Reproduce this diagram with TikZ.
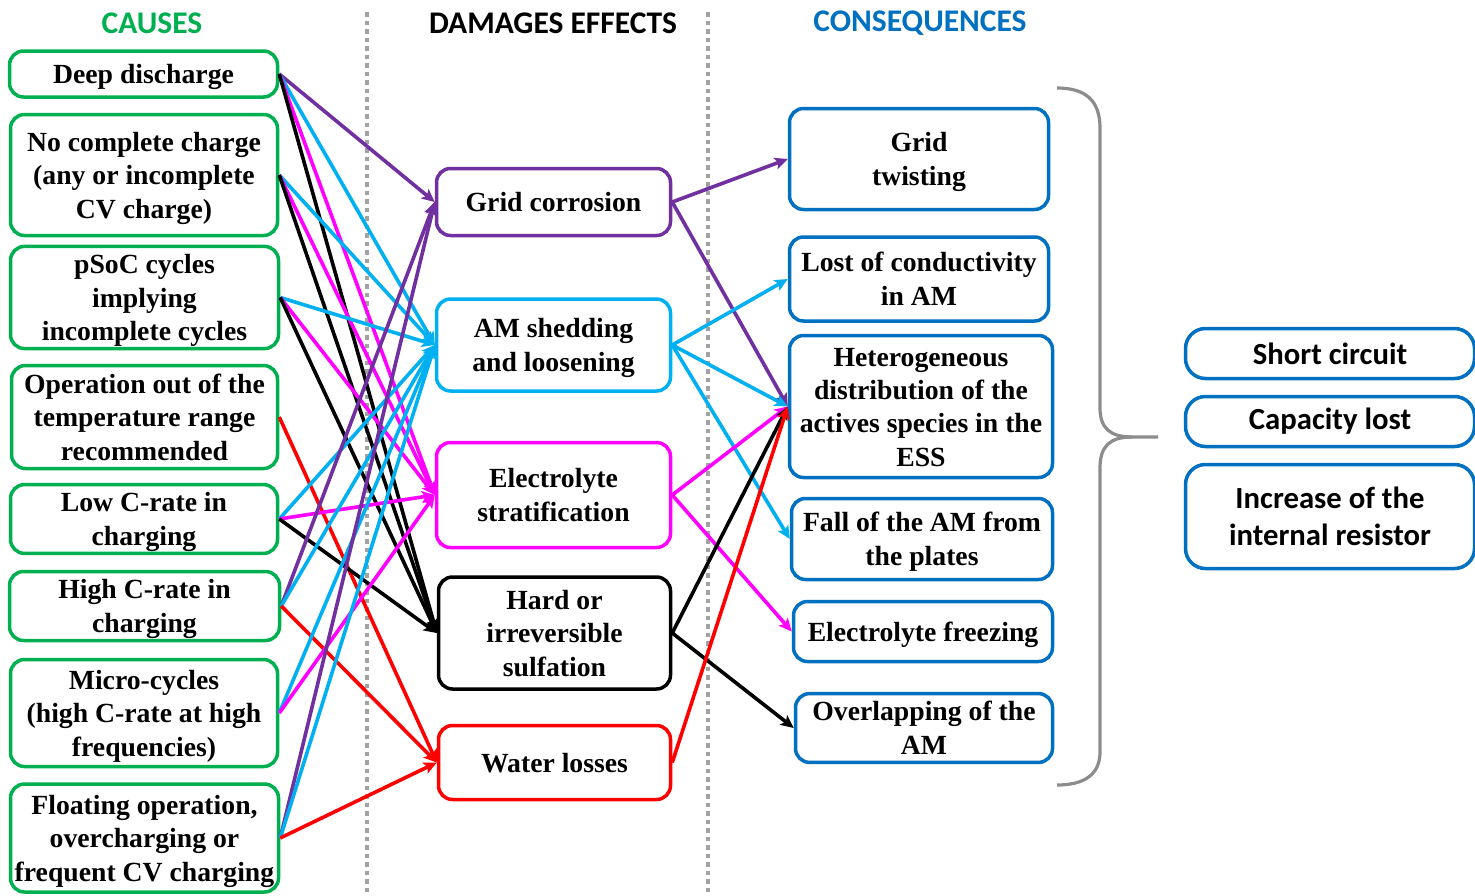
\documentclass[tikz,border=0pt]{standalone}
\usepackage{fontspec}
\setmainfont{Liberation Serif}
\newfontfamily\calfont{Carlito}
\usetikzlibrary{arrows.meta}
\definecolor{cgreen}{HTML}{00B050}
\definecolor{cpurple}{HTML}{7030A0}
\definecolor{ccyan}{HTML}{00B0F0}
\definecolor{cmag}{HTML}{FF00FF}
\definecolor{cred}{HTML}{FF0000}
\definecolor{cblue}{HTML}{0070C0}
\definecolor{cbrace}{HTML}{8C8C8C}
\definecolor{cdot}{HTML}{A2A2A2}
\newcommand\tl[1]{\raisebox{-3pt}[\height][\depth]{\begin{tabular}{@{}c@{}}#1\end{tabular}}}
\begin{document}
\begin{tikzpicture}[x=1pt,y=-1pt,
  box/.style={draw, line width=3.5pt, rounded corners=14pt, align=center, inner sep=1pt,
    font=\fontsize{27.7}{33.4}\selectfont\bfseries},
  rbox/.style={draw=cblue, line width=3.5pt, rounded corners=20pt, align=center, inner sep=1pt,
    font=\calfont\fontsize{30.7}{37}\selectfont\bfseries, minimum width=289pt},
  head/.style={font=\calfont\fontsize{31.5}{36}\selectfont\bfseries, inner sep=0pt},
  conn/.style={line width=3.6pt, -{Stealth[length=13pt,width=12pt,inset=3pt]}},
  sep/.style={cdot, line width=4.5pt, dash pattern=on 4.5pt off 4pt},
  brace/.style={cbrace, line width=3.2pt}
]
\useasboundingbox (0,0) rectangle (1475,895);
\fill[white] (0,0) rectangle (1475,895);

% separators
\draw[sep] (367,12) -- (367,892);
\draw[sep] (708,12) -- (708,892);

% headings
\node[head, text=cgreen] (hc) at (152,23) {CAUSES};
\node[head, text=black] (hd) at (553,23) {DAMAGES EFFECTS};
\node[head, text=cblue] (hq) at (920,23) {CONSEQUENCES};

% causes
\node[box, draw=cgreen, minimum width=268pt, minimum height=46pt] (c1) at (143.5,74) {\tl{Deep discharge}};
\node[box, draw=cgreen, minimum width=267pt, minimum height=121pt] (c2) at (144,175) {\tl{No complete charge\\(any or incomplete\\CV charge)}};
\node[box, draw=cgreen, minimum width=268pt, minimum height=102pt] (c3) at (144.5,297.5) {\tl{pSoC cycles\\implying\\incomplete cycles}};
\node[box, draw=cgreen, minimum width=266pt, minimum height=103pt] (c4) at (144.5,417) {\tl{Operation out of the\\temperature range\\recommended}};
\node[box, draw=cgreen, minimum width=267pt, minimum height=67pt] (c5) at (144,519) {\tl{Low C-rate in\\charging}};
\node[box, draw=cgreen, minimum width=270pt, minimum height=69pt] (c6) at (144.5,606) {\tl{High C-rate in\\charging}};
\node[box, draw=cgreen, minimum width=267pt, minimum height=107pt] (c7) at (144,713) {\tl{Micro-cycles\\(high C-rate at high\\frequencies)}};
\node[box, draw=cgreen, minimum width=268pt, minimum height=108pt] (c8) at (144.5,838) {\tl{Floating operation,\\overcharging or\\frequent CV charging}};

% damages
\node[box, draw=cpurple, minimum width=234pt, minimum height=67pt] (d1) at (553.5,202) {\tl{Grid corrosion}};
\node[box, draw=ccyan, minimum width=234pt, minimum height=92pt] (d2) at (553.5,345) {\tl{AM shedding\\and loosening}};
\node[box, draw=cmag, minimum width=234pt, minimum height=105pt] (d3) at (553.5,495) {\tl{Electrolyte\\stratification}};
\node[box, draw=black, minimum width=232pt, minimum height=112pt] (d4) at (554.5,633) {\tl{Hard or\\irreversible\\sulfation}};
\node[box, draw=cred, minimum width=232pt, minimum height=74pt] (d5) at (554.5,762.5) {\tl{Water losses}};

% consequences
\node[box, draw=cblue, minimum width=259pt, minimum height=101pt] (q1) at (919,159) {\tl{Grid\\twisting}};
\node[box, draw=cblue, minimum width=259pt, minimum height=84pt] (q2) at (919,279) {\tl{Lost of conductivity\\in AM}};
\node[box, draw=cblue, minimum width=263pt, minimum height=142pt] (q3) at (921,406.5) {\tl{Heterogeneous\\distribution of the\\actives species in the\\ESS}};
\node[box, draw=cblue, minimum width=261pt, minimum height=81pt] (q4) at (922,539) {\tl{Fall of the AM from\\the plates}};
\node[box, draw=cblue, minimum width=259pt, minimum height=60pt] (q5) at (923,631.5) {\tl{Electrolyte freezing}};
\node[box, draw=cblue, minimum width=257pt, minimum height=63pt] (q6) at (924,728) {\tl{Overlapping of the\\AM}};

% outcomes
\node[rbox, minimum height=50pt] (r1) at (1330,353.5) {Short circuit};
\node[rbox, minimum height=50pt] (r2) at (1330,421.5) {Capacity lost};
\node[rbox, minimum height=104pt] (r3) at (1330,516.5) {Increase of the\\internal resistor};

% brace
\draw[brace] (1057,88) .. controls (1085,88) and (1100,100) .. (1100,128) -- (1100,408)
  .. controls (1100,428) and (1110,437) .. (1132,437) -- (1158,437);
\draw[brace] (1132,437) .. controls (1110,437) and (1100,446) .. (1100,468) -- (1100,752)
  .. controls (1100,774) and (1085,785) .. (1057,785);

% causes -> damages
\draw[conn, cpurple] (c1.east) -- (d1.west);
\draw[conn, ccyan] (c1.east) -- (d2.west);
\draw[conn, cmag] (c1.east) -- (d3.west);
\draw[conn, black] (c1.east) -- (d4.west);
\draw[conn, ccyan] (c2.east) -- (d2.west);
\draw[conn, cmag] (c2.east) -- (d3.west);
\draw[conn, black] (c2.east) -- (d4.west);
\draw[conn, ccyan] (c3.east) -- (d2.west);
\draw[conn, cmag] (c3.east) -- (d3.west);
\draw[conn, black] (c3.east) -- (d4.west);
\draw[conn, cred] (c4.east) -- (d5.west);
\draw[conn, ccyan] (c5.east) -- (d2.west);
\draw[conn, cmag] (c5.east) -- (d3.west);
\draw[conn, black] (c5.east) -- (d4.west);
\draw[conn, cpurple] (c6.east) -- (d1.west);
\draw[conn, ccyan] (c6.east) -- (d2.west);
\draw[conn, cred] (c6.east) -- (d5.west);
\draw[conn, ccyan] (c7.east) -- (d2.west);
\draw[conn, cmag] (c7.east) -- (d3.west);
\draw[conn, cpurple] (c8.east) -- (d1.west);
\draw[conn, ccyan] (c8.east) -- (d2.west);
\draw[conn, cred] (c8.east) -- (d5.west);

% damages -> consequences
\draw[conn, cpurple] (d1.east) -- (q1.west);
\draw[conn, cpurple] (d1.east) -- (q3.west);
\draw[conn, ccyan] (d2.east) -- (q2.west);
\draw[conn, ccyan] (d2.east) -- (q3.west);
\draw[conn, ccyan] (d2.east) -- (q4.west);
\draw[conn, cmag] (d3.east) -- (q3.west);
\draw[conn, cmag] (d3.east) -- (q5.west);
\draw[conn, black] (d4.east) -- (q3.west);
\draw[conn, black] (d4.east) -- (q6.west);
\draw[conn, cred] (d5.east) -- (q3.west);
\end{tikzpicture}
\end{document}
